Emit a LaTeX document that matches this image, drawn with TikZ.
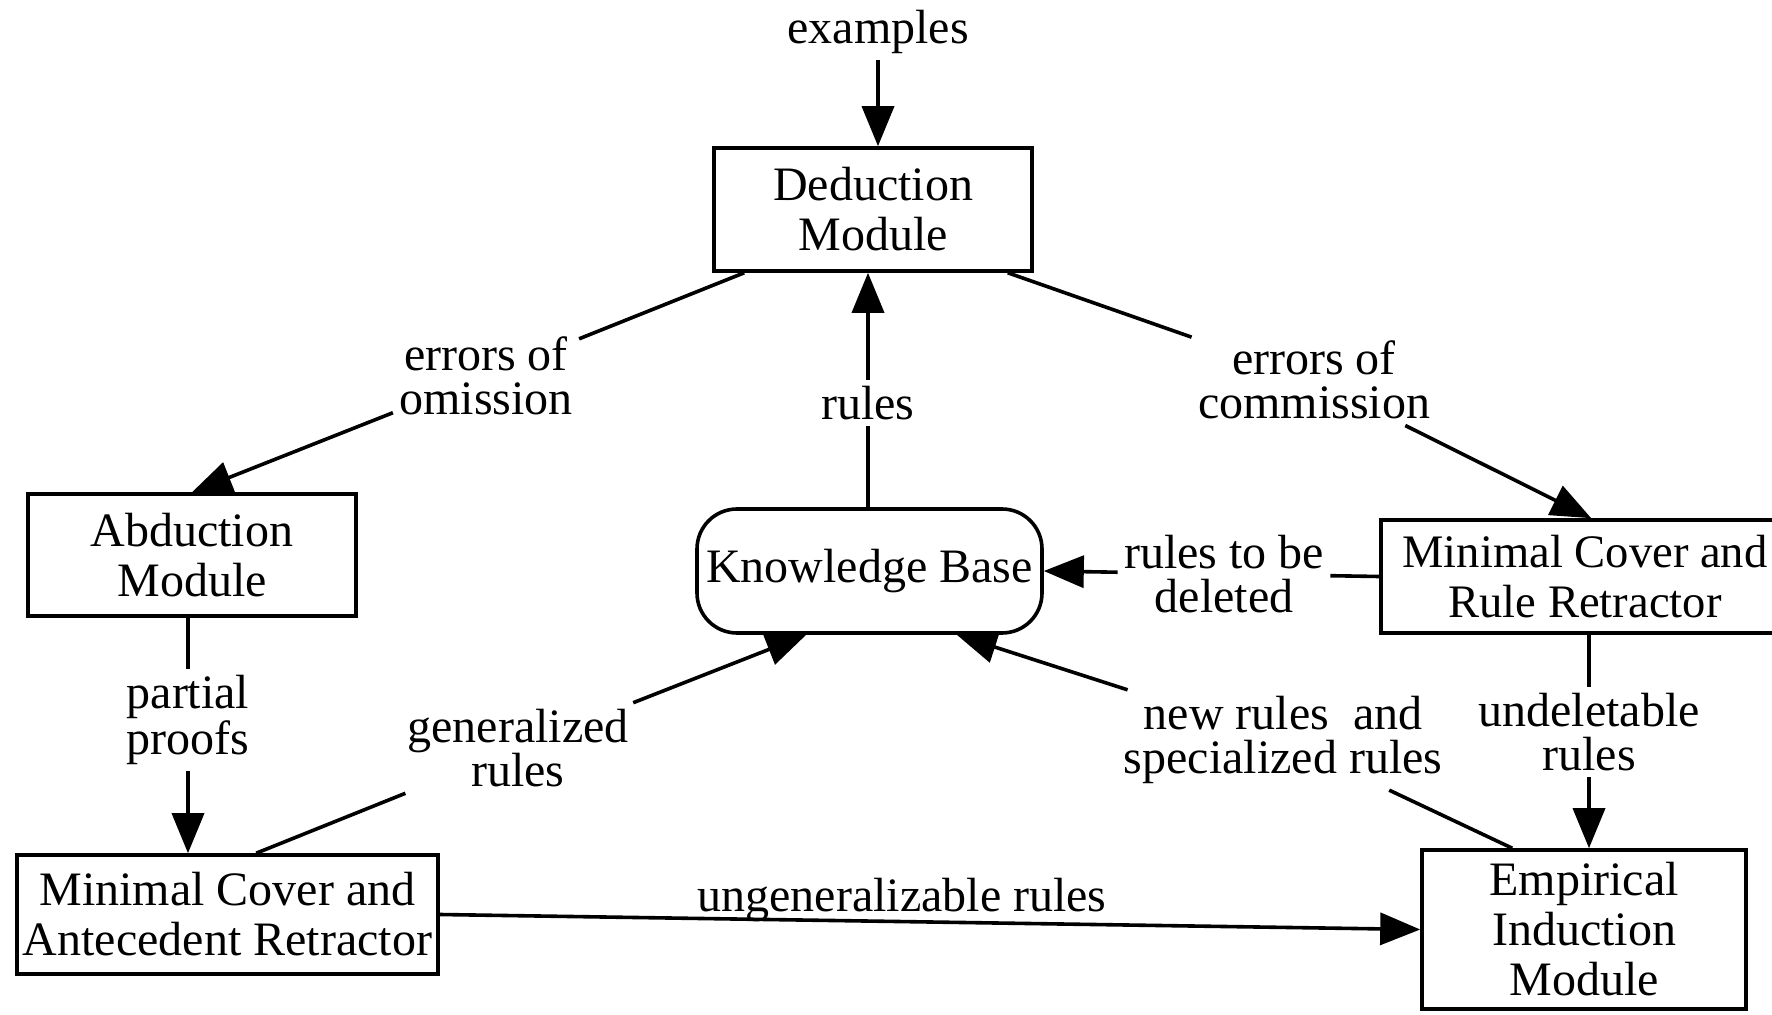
\documentclass[tikz,border=0pt]{standalone}
\usepackage{fontspec}
\setmainfont{Liberation Serif}
\usetikzlibrary{arrows.meta,calc}
\begin{document}
\begin{tikzpicture}[x=0.5pt,y=-0.5pt,
  box/.style={draw,line width=1.8pt,align=center,inner sep=2pt,
    font=\fontsize{24}{25}\selectfont},
  lbl/.style={align=center,inner sep=3pt,font=\fontsize{24}{22}\selectfont},
  conn/.style={line width=1.8pt},
  arr/.style={conn,-{Triangle[length=20pt,width=16pt]}}]
\fill[white] (0,0) rectangle (1772,1015);
\path[use as bounding box] (0,0) rectangle (1772,1015);

% modules
\node[box,minimum width=159pt,minimum height=61.5pt] (ded) at (873,209.5) {Deduction\\Module};
\node[box,minimum width=164pt,minimum height=61pt] (abd) at (192,555) {Abduction\\Module};
\node[box,rounded corners=20pt,minimum width=172.5pt,minimum height=62pt] (kb) at (869.5,571) {Knowledge Base};
\node[box,font=\fontsize{23.3}{25}\selectfont,minimum width=204pt,minimum height=56.5pt] (mcrr) at (1585,576.5) {Minimal Cover and\\Rule Retractor};
\node[box,minimum width=210.5pt,minimum height=59.5pt] (mcar) at (227.5,914.5) {Minimal Cover and\\Antecedent Retractor};
\node[box,minimum width=162pt,minimum height=79.5pt] (emp) at (1584,929.5) {Empirical\\Induction\\Module};

% connector labels
\node[lbl] (ex) at (878,32) {examples};
\node[lbl] (om) at (486,376) {errors of\\omission};
\node[lbl] (rl) at (868,403) {rules};
\node[lbl] (cm) at (1314,380) {errors of\\commission};
\node[lbl] (rd) at (1224,574) {rules to be\\deleted};
\node[lbl] (pp) at (188,720) {partial\\proofs};
\node[lbl] (gr) at (518,748) {generalized\\rules};
\node[lbl] (nr) at (1283,740) {new rules~ and\\specialized rules};
\node[lbl] (ud) at (1589,732) {undeletable\\rules};
\node[lbl] (ug) at (902,900) {ungeneralizable rules};

% connectors
\draw[arr] (ex.south) -- (ex.south |- ded.north);
\draw[conn] ($(ded.south west)+(32,0)$) -- (om);
\draw[arr] (om) -- (abd.north);
\draw[conn] ($(ded.south east)+(-26,0)$) -- (cm);
\draw[arr] (cm) -- ($(mcrr.north west)+(212,0)$);
\draw[conn] (kb.north -| rl) -- (rl);
\draw[arr] (rl) -- (rl |- ded.south);
\draw[conn] (mcrr.west) -- (rd);
\draw[arr] (rd) -- (kb.east);
\draw[conn] (pp.north |- abd.south) -- (pp);
\draw[arr] (pp) -- (pp |- mcar.north);
\draw[conn] ($(mcar.north west)+(241,0)$) -- (gr);
\draw[arr] (gr) -- ($(kb.south west)+(111,0)$);
\draw[conn] ($(emp.north west)+(92,0)$) -- (nr);
\draw[arr] (nr) -- ($(kb.south east)+(-87,0)$);
\draw[conn] (ud.north |- mcrr.south) -- (ud);
\draw[arr] (ud) -- (ud |- emp.north);
\draw[arr] (mcar.east) -- (emp.west);
\end{tikzpicture}
\end{document}
